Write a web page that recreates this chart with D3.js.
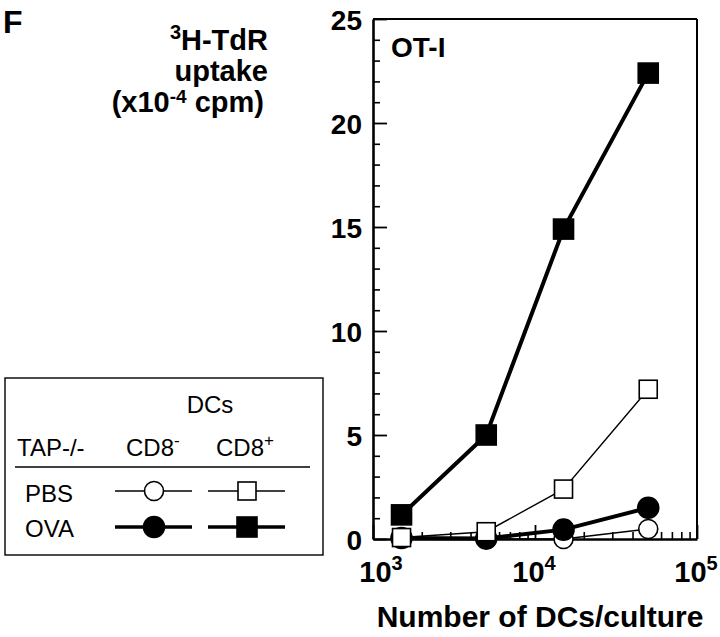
<!DOCTYPE html>
<html>
  <head>
    <meta charset="utf-8">
    <title>OT-I proliferation</title>
    <script src="https://d3js.org/d3.v7.min.js"></script>
    <style>
      body { margin: 0; background: white; }
      svg { font-family: "Liberation Sans", Arial, Helvetica, sans-serif; }
      .bold { font-weight: bold; }
    </style>
  </head>
  <body>
    <svg id="chart" width="720" height="637"></svg>
    <script>
      // data (x = DCs per culture, y = cpm x 10^-4)
      var dcCounts = [1500, 5000, 15000, 50000];
      var pbsCD8neg = [0.05, 0.0, 0.0, 0.48];
      var ovaCD8neg = [0.05, 0.02, 0.45, 1.5];
      var ovaCD8pos = [1.16, 5.0, 14.9, 22.4];
      var pbsCD8pos = [0.07, 0.35, 2.4, 7.2];
      var yTicks = [0, 5, 10, 15, 20, 25];
      var xTicks = [1e3, 1e4, 1e5];

      // drawing order matches the overlaps in the figure
      var series = [
        { name: "PBS CD8-", values: pbsCD8neg, shape: "circle", fill: "white", width: 1.4 },
        { name: "OVA CD8-", values: ovaCD8neg, shape: "circle", fill: "black", width: 4 },
        { name: "OVA CD8+", values: ovaCD8pos, shape: "square", fill: "black", width: 4 },
        { name: "PBS CD8+", values: pbsCD8pos, shape: "square", fill: "white", width: 1.4 }
      ];

      var svg = d3.select("#chart");
      var plotLeft = 373, plotRight = 697, plotTop = 19, plotBottom = 539;

      var x = d3.scaleLog().domain([1e3, 1e5]).range([plotLeft, plotRight]);
      var y = d3.scaleLinear().domain([0, 25]).range([plotBottom, plotTop]);

      // frame
      svg.append("line").attr("x1", plotLeft).attr("x2", plotRight).attr("y1", plotTop).attr("y2", plotTop)
        .attr("stroke", "black").attr("stroke-width", 2);
      svg.append("line").attr("x1", plotRight).attr("x2", plotRight).attr("y1", plotTop).attr("y2", plotBottom)
        .attr("stroke", "black").attr("stroke-width", 2);

      // y axis, ticks pointing inwards
      var yMinor = d3.range(0, 26, 1).filter(function(d) { return d % 5 !== 0; });
      svg.append("g")
        .attr("transform", "translate(" + plotLeft + ",0)")
        .call(d3.axisLeft(y).tickValues(yMinor).tickSize(-7).tickFormat(""))
        .call(function(g) { g.select(".domain").remove(); })
        .selectAll("line").attr("stroke-width", 1.6);
      var yAxis = svg.append("g")
        .attr("transform", "translate(" + plotLeft + ",0)")
        .call(d3.axisLeft(y).tickValues(yTicks).tickSize(-14).tickPadding(11).tickSizeOuter(0));
      yAxis.select(".domain").attr("stroke-width", 2.6);
      yAxis.selectAll("line").attr("stroke-width", 1.8);
      yAxis.selectAll("text")
        .attr("class", "bold")
        .attr("font-family", null)
        .attr("font-size", 28)
        .attr("dy", "0.36em");

      // x axis, log ticks pointing inwards
      var xMinor = [];
      [1e3, 1e4].forEach(function(p) {
        d3.range(2, 10).forEach(function(m) { xMinor.push(m * p); });
      });
      svg.append("g")
        .attr("transform", "translate(0," + plotBottom + ")")
        .call(d3.axisBottom(x).tickValues(xMinor).tickSize(-7).tickFormat(""))
        .call(function(g) { g.select(".domain").remove(); })
        .selectAll("line").attr("stroke-width", 1.6);
      var xAxis = svg.append("g")
        .attr("transform", "translate(0," + plotBottom + ")")
        .call(d3.axisBottom(x).tickValues(xTicks).tickSize(-14).tickFormat("").tickSizeOuter(0));
      xAxis.select(".domain").attr("stroke-width", 2.6);
      xAxis.selectAll("line").attr("stroke-width", 1.8);

      // powers of ten labels
      var xLabels = svg.append("g").selectAll("text")
        .data(xTicks)
        .enter().append("text")
          .attr("class", "bold")
          .attr("font-size", 29)
          .attr("x", function(d) { return x(d) + (d === 1e3 ? 8 : -1); })
          .attr("y", 582)
          .attr("text-anchor", "middle");
      xLabels.append("tspan").text("10");
      xLabels.append("tspan")
        .attr("font-size", 20)
        .attr("dy", -12)
        .text(function(d) { return Math.round(Math.log10(d)); });

      svg.append("text")
        .attr("class", "bold")
        .attr("font-size", 30)
        .attr("x", 540)
        .attr("y", 627)
        .attr("text-anchor", "middle")
        .text("Number of DCs/culture");

      // y title
      var yTitle = svg.append("text")
        .attr("class", "bold")
        .attr("font-size", 29)
        .attr("text-anchor", "end");
      var l1 = yTitle.append("tspan").attr("x", 268).attr("y", 50);
      l1.append("tspan").attr("font-size", 20).attr("dy", -11).text("3");
      l1.append("tspan").attr("dy", 11).text("H-TdR");
      yTitle.append("tspan").attr("x", 268).attr("y", 81).text("uptake");
      var l3 = yTitle.append("tspan").attr("x", 264).attr("y", 112);
      l3.append("tspan").text("(x10");
      l3.append("tspan").attr("font-size", 19).attr("dy", -9).text("-4");
      l3.append("tspan").attr("dy", 9).text(" cpm)");

      svg.append("text")
        .attr("class", "bold")
        .attr("font-size", 32)
        .attr("x", 3)
        .attr("y", 33)
        .text("F");

      svg.append("text")
        .attr("class", "bold")
        .attr("font-size", 28)
        .attr("x", 391)
        .attr("y", 57)
        .text("OT-I");

      // series
      var line = d3.line()
        .x(function(d, i) { return x(dcCounts[i]); })
        .y(function(d) { return y(d); });

      function marker(sel, s, cx, cy) {
        if (s.shape === "circle") {
          sel.append("circle")
            .attr("cx", cx).attr("cy", cy)
            .attr("r", s.fill === "black" ? 10.5 : 9.5)
            .attr("fill", s.fill)
            .attr("stroke", "black")
            .attr("stroke-width", 1.6);
        } else {
          var size = s.fill === "black" ? 20 : 18;
          sel.append("rect")
            .attr("x", cx - size / 2).attr("y", cy - size / 2)
            .attr("width", size).attr("height", size)
            .attr("fill", s.fill)
            .attr("stroke", "black")
            .attr("stroke-width", 1.6);
        }
      }

      series.forEach(function(s) {
        var g = svg.append("g");
        g.append("path")
          .attr("d", line(s.values))
          .attr("fill", "none")
          .attr("stroke", "black")
          .attr("stroke-width", s.width);
        s.values.forEach(function(v, i) {
          marker(g, s, x(dcCounts[i]), y(v));
        });
      });

      // legend
      var legend = svg.append("g");
      legend.append("rect")
        .attr("x", 5).attr("y", 378)
        .attr("width", 318).attr("height", 177)
        .attr("fill", "none")
        .attr("stroke", "black")
        .attr("stroke-width", 1.4);
      legend.append("text").attr("font-size", 24).attr("x", 210).attr("y", 413)
        .attr("text-anchor", "middle").text("DCs");
      legend.append("text").attr("font-size", 24).attr("x", 17).attr("y", 456).text("TAP-/-");
      var c1 = legend.append("text").attr("font-size", 24).attr("x", 126).attr("y", 456);
      c1.append("tspan").text("CD8");
      c1.append("tspan").attr("font-size", 17).attr("dy", -10).text("-");
      var c2 = legend.append("text").attr("font-size", 24).attr("x", 216).attr("y", 456);
      c2.append("tspan").text("CD8");
      c2.append("tspan").attr("font-size", 17).attr("dy", -10).text("+");
      legend.append("line")
        .attr("x1", 15).attr("x2", 310).attr("y1", 467).attr("y2", 467)
        .attr("stroke", "black").attr("stroke-width", 1.4);
      legend.append("text").attr("font-size", 24).attr("x", 25).attr("y", 502).text("PBS");
      legend.append("text").attr("font-size", 24).attr("x", 25).attr("y", 537).text("OVA");

      var legendRows = { "PBS": 491, "OVA": 527 };
      var legendCols = { "CD8-": 154, "CD8+": 247 };
      series.forEach(function(s) {
        var parts = s.name.split(" ");
        var cy = legendRows[parts[0]], cx = legendCols[parts[1]];
        legend.append("line")
          .attr("x1", cx - 39).attr("x2", cx + 38)
          .attr("y1", cy).attr("y2", cy)
          .attr("stroke", "black")
          .attr("stroke-width", s.width === 4 ? 3.5 : 1.4);
        marker(legend, s, cx, cy);
      });
    </script>
  </body>
</html>
